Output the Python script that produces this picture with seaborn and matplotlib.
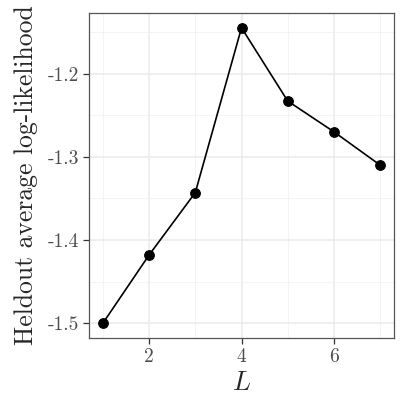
import seaborn as sns
import matplotlib.pyplot as plt
import pandas as pd

# Data
L_values = [1, 2, 3, 4, 5, 6, 7]
loglik = [-1.500, -1.418, -1.343, -1.145, -1.233, -1.270, -1.310]
y_ticks = [-1.5, -1.4, -1.3, -1.2]
y_tick_labels = ['-1.5', '-1.4', '-1.3', '-1.2']
x_ticks = [2, 4, 6]

sns.set_style('white')
plt.rcParams['font.family'] = ['cmr10', 'DejaVu Sans']
plt.rcParams['mathtext.fontset'] = 'cm'
plt.rcParams['axes.unicode_minus'] = False

df = pd.DataFrame({'L': L_values, 'll': loglik})

fig = plt.figure(figsize=(4.07, 4.07), dpi=100)
ax = fig.add_axes([0.2187, 0.1695, 0.7494, 0.7985])

sns.lineplot(data=df, x='L', y='ll', color='black', linewidth=1.2,
             marker='o', markersize=7, markeredgecolor='black', ax=ax)

# ggplot-like limits with 5% expansion
xr = max(L_values) - min(L_values)
ax.set_xlim(min(L_values) - 0.05 * xr, max(L_values) + 0.05 * xr)
yr = max(loglik) - min(loglik)
ax.set_ylim(min(loglik) - 0.05 * yr, max(loglik) + 0.05 * yr)

ax.set_xticks(x_ticks)
ax.set_xticklabels([str(t) for t in x_ticks])
ax.set_yticks(y_ticks)
ax.set_yticklabels(y_tick_labels)
ax.set_xticks([1, 3, 5, 7], minor=True)
ax.set_yticks([-1.45, -1.35, -1.25, -1.15], minor=True)

ax.grid(True, which='major', color='#ebebeb', linewidth=1.1)
ax.grid(True, which='minor', color='#f2f2f2', linewidth=0.6)
ax.set_axisbelow(True)

for s in ax.spines.values():
    s.set_color('#555555')
    s.set_linewidth(0.9)

ax.tick_params(axis='both', which='major', length=4, width=0.9, color='#333333',
               labelcolor='#4d4d4d', labelsize=14, direction='out',
               bottom=True, left=True, pad=3)
ax.tick_params(axis='both', which='minor', length=0)

ax.set_xlabel('$L$', fontsize=19, labelpad=4)
ax.set_ylabel('Heldout average log-likelihood', fontsize=18.5, labelpad=7)

plt.savefig('out.png', dpi=100)
plt.close()
